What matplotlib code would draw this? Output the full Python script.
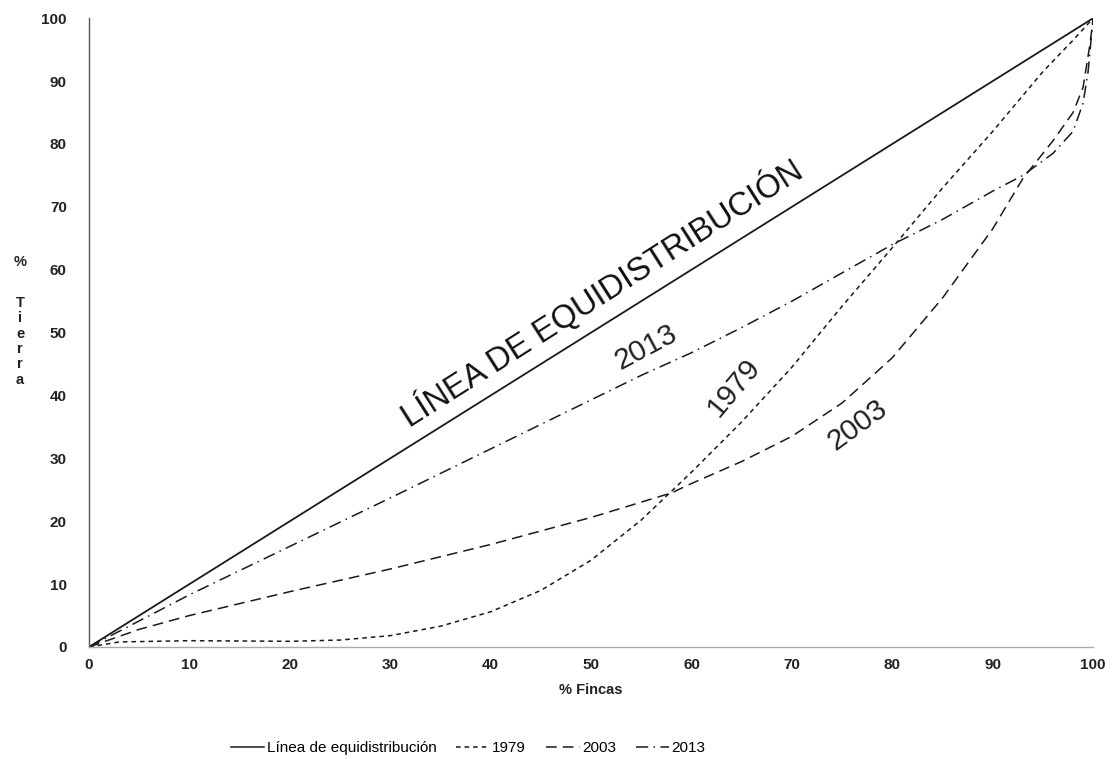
import matplotlib.pyplot as plt
from matplotlib.lines import Line2D

plt.rcParams['font.family'] = ['Liberation Sans', 'DejaVu Sans']

# curvas de Lorenz (% fincas, % tierra)
x_eq = [0, 100]
y_eq = [0, 100]

x1979 = [0, 3, 10, 20, 25, 30, 35, 40, 45, 50, 55, 60, 65, 70, 75, 80, 85, 90, 95, 98, 100]
y1979 = [0, 0.8, 1, 0.9, 1.1, 1.8, 3.3, 5.6, 9, 13.8, 20.2, 27.8, 35.8, 44.5, 54.2, 63.5, 73, 82, 91.5, 96.5, 100]

x2003 = [0, 5, 10, 20, 30, 40, 50, 58, 60, 65, 70, 75, 80, 85, 90, 93, 96, 98, 99, 99.7, 100]
y2003 = [0, 2.8, 5, 8.8, 12.4, 16.3, 20.6, 24.5, 26, 29.5, 33.5, 38.8, 46, 55.5, 66.5, 74.5, 80.5, 85, 89, 96, 100]

x2013 = [0, 10, 20, 30, 40, 50, 55, 60, 65, 70, 75, 80, 85, 90, 93, 96, 98, 99, 99.5, 100]
y2013 = [0, 8.3, 16, 23.7, 31.5, 39.3, 43.2, 46.8, 50.8, 55, 59.5, 64, 68, 72.5, 75, 78.5, 82, 86.5, 91.5, 100]

ticks = [0, 10, 20, 30, 40, 50, 60, 70, 80, 90, 100]

fig = plt.figure(figsize=(11.2, 7.59), dpi=100)
ax = fig.add_axes([0.0795, 0.1476, 0.8965, 0.8284])

col = '#1a1a1a'
ax.plot(x_eq, y_eq, color=col, lw=1.3, solid_capstyle='butt')
ax.plot(x1979, y1979, color=col, lw=1.1, dashes=(3, 2.6))
ax.plot(x2003, y2003, color=col, lw=1.1, dashes=(7, 4))
ax.plot(x2013, y2013, color=col, lw=1.1, dashes=(8, 3.5, 1, 3.5))

ax.set_xlim(0, 100)
ax.set_ylim(0, 100)
ax.set_xticks(ticks)
ax.set_yticks(ticks)
ax.tick_params(length=0, labelsize=11)
ax.tick_params(axis='y', pad=16)
ax.tick_params(axis='x', pad=8)
for lab in ax.get_xticklabels() + ax.get_yticklabels():
    lab.set_fontweight('bold')
    lab.set_color('#222222')

ax.spines['top'].set_visible(False)
ax.spines['right'].set_visible(False)
ax.spines['left'].set_color('#555555')
ax.spines['left'].set_linewidth(1.0)
ax.spines['bottom'].set_color('#aaaaaa')
ax.spines['bottom'].set_linestyle((0, (1, 1)))
ax.spines['bottom'].set_linewidth(1.0)

ax.set_xlabel('% Fincas', fontsize=10.5, fontweight='bold', color='#222222', labelpad=8)
fig.text(0.018, 0.655, '%', fontsize=10.5, fontweight='bold',
         color='#222222', ha='center', va='center')
fig.text(0.018, 0.61, 'T\ni\ne\nr\nr\na', fontsize=10.5, fontweight='bold',
         color='#222222', ha='center', va='top', linespacing=1.12)

# rotulos sobre las curvas
ax.text(51.1, 56.3, 'LÍNEA DE EQUIDISTRIBUCIÓN', fontsize=23.5, rotation=32.5,
        ha='center', va='center', color='#111111')
ax.text(55.5, 47.7, '2013', fontsize=21.5, rotation=28, ha='center', va='center', color='#222222')
ax.text(64.2, 41.3, '1979', fontsize=21.5, rotation=50, ha='center', va='center', color='#222222')
ax.text(76.5, 35.3, '2003', fontsize=21.5, rotation=36, ha='center', va='center', color='#222222')

handles = [
    Line2D([], [], color=col, lw=1.1),
    Line2D([], [], color=col, lw=1.1, dashes=(3, 2.6)),
    Line2D([], [], color=col, lw=1.1, dashes=(7, 4)),
    Line2D([], [], color=col, lw=1.1, dashes=(8, 3.5, 1, 3.5)),
]
labels = ['Línea de equidistribución', '1979', '2003', '2013']
fig.legend(handles, labels, loc='center', bbox_to_anchor=(0.418, 0.014), ncol=4,
           frameon=False, fontsize=11, handlelength=2.2, handletextpad=0.15,
           columnspacing=1.3)

fig.savefig('out.png', dpi=100)
